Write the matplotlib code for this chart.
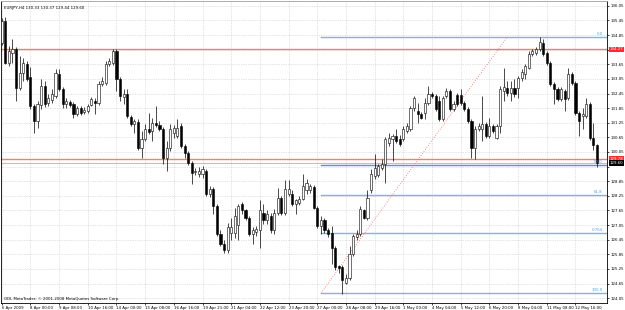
import numpy as np
import matplotlib.pyplot as plt
from matplotlib.patches import Rectangle

# EURJPY H4 candles, 6 Apr - 13 May 2009
opens = [134.53, 135.44, 133.71, 134.12, 134.29, 132.69, 133.30, 133.67, 133.14, 131.95,
         131.34, 131.99, 132.77, 132.07, 132.20, 132.36, 133.26, 132.65, 132.03, 132.11,
         132.03, 131.62, 131.87, 131.70, 131.75, 131.99, 132.16, 132.07, 132.85, 132.89,
         133.67, 133.71, 134.21, 133.06, 132.32, 132.44, 131.50, 131.21, 131.29, 130.23,
         130.60, 131.01, 130.93, 131.25, 131.17, 131.01, 129.82, 130.23, 130.84, 130.72,
         131.13, 130.31, 130.02, 129.61, 129.24, 129.16, 129.16, 129.29, 128.34, 128.55,
         127.85, 126.70, 126.29, 126.01, 126.74, 126.74, 127.07, 127.93, 127.65, 127.36,
         126.70, 126.78, 126.83, 127.56, 127.24, 127.44, 126.83, 127.56, 128.18, 127.56,
         128.34, 128.34, 127.93, 127.97, 128.14, 128.47, 128.51, 128.63, 127.77, 127.03,
         127.24, 126.83, 126.74, 126.09, 125.35, 125.31, 124.69, 124.86, 125.88, 126.54,
         126.70, 127.65, 127.32, 128.47, 129.08, 129.12, 129.41, 129.57, 130.43, 130.60,
         130.72, 130.60, 130.60, 130.93, 131.01, 131.87, 131.75, 131.62, 131.66, 132.07,
         132.44, 132.36, 132.16, 131.42, 132.36, 132.57, 131.83, 132.40, 132.40, 132.07,
         131.83, 131.34, 130.23, 131.01, 131.01, 131.21, 130.72, 131.13, 130.64, 131.13,
         132.57, 132.69, 132.48, 132.69, 132.69, 133.10, 133.26, 133.51, 134.08, 134.12,
         134.29, 134.53, 134.12, 133.71, 132.85, 132.65, 132.24, 132.57, 132.28, 133.26,
         132.89, 131.66, 131.54, 131.54, 132.03, 130.64, 130.33]
highs = [135.56, 135.60, 134.41, 134.70, 134.37, 134.00, 133.92, 133.80, 133.55, 132.03,
         132.16, 133.06, 132.98, 132.44, 132.65, 133.47, 133.47, 132.73, 132.28, 132.20,
         132.11, 131.95, 131.95, 131.91, 132.03, 132.32, 132.28, 132.98, 133.14, 133.80,
         133.92, 134.29, 134.29, 133.14, 132.65, 132.65, 131.58, 131.42, 131.42, 130.93,
         131.21, 131.66, 131.46, 131.95, 131.34, 131.09, 130.52, 131.21, 131.17, 131.42,
         131.25, 130.39, 130.11, 129.70, 129.41, 129.45, 129.49, 129.37, 128.67, 128.63,
         127.93, 126.83, 126.42, 127.15, 127.36, 127.77, 127.93, 128.01, 127.73, 127.44,
         126.99, 127.03, 128.06, 127.93, 127.65, 127.56, 127.69, 128.59, 128.26, 128.88,
         128.88, 128.47, 128.14, 128.26, 129.16, 128.96, 128.75, 128.71, 127.85, 127.44,
         127.36, 126.91, 127.03, 126.17, 125.43, 125.39, 125.06, 126.21, 126.70, 126.83,
         127.85, 127.73, 128.47, 129.37, 129.98, 129.57, 129.78, 130.68, 130.84, 130.80,
         131.01, 130.76, 131.13, 131.25, 131.95, 132.36, 132.07, 131.70, 132.28, 132.77,
         132.52, 132.44, 132.36, 132.36, 132.69, 132.65, 132.16, 132.48, 132.65, 132.16,
         131.91, 131.42, 131.13, 131.25, 132.36, 131.29, 131.46, 131.21, 131.21, 132.77,
         133.51, 132.98, 132.98, 133.06, 133.18, 133.47, 133.67, 134.21, 134.29, 134.37,
         134.78, 134.70, 134.21, 133.80, 132.93, 132.73, 132.73, 132.65, 133.51, 133.34,
         132.98, 131.75, 131.87, 132.28, 132.11, 131.25, 130.37]
lows = [134.45, 133.67, 133.59, 133.71, 132.16, 132.61, 132.98, 132.98, 131.83, 130.84,
        131.05, 131.83, 131.91, 131.95, 132.07, 132.28, 132.57, 131.87, 131.87, 131.91,
        131.46, 131.54, 131.58, 131.62, 131.66, 131.95, 131.62, 131.99, 132.77, 132.81,
        133.59, 133.63, 132.57, 132.16, 132.03, 131.46, 131.13, 130.84, 130.15, 129.82,
        130.52, 130.80, 130.52, 131.09, 130.93, 129.57, 129.29, 130.11, 130.64, 130.64,
        130.23, 129.82, 129.53, 128.75, 129.12, 129.04, 129.00, 128.26, 128.22, 127.52,
        126.62, 126.17, 125.92, 125.92, 126.42, 126.50, 126.42, 127.52, 127.24, 126.62,
        126.29, 126.62, 126.09, 127.11, 127.11, 126.74, 126.70, 127.48, 127.48, 127.48,
        128.26, 127.85, 127.52, 127.89, 128.06, 128.34, 128.38, 127.73, 126.91, 126.70,
        126.74, 126.58, 125.47, 125.19, 125.10, 124.24, 124.65, 124.78, 125.76, 126.42,
        126.62, 127.28, 127.24, 128.38, 128.96, 129.04, 129.33, 128.79, 130.31, 129.70,
        130.43, 130.31, 130.52, 130.84, 130.93, 131.75, 131.25, 131.42, 131.42, 131.99,
        132.28, 131.75, 131.34, 131.34, 132.28, 131.75, 131.75, 131.95, 131.99, 131.75,
        131.25, 129.82, 129.78, 130.93, 130.52, 130.64, 130.64, 130.84, 130.60, 130.84,
        132.16, 132.36, 132.16, 132.32, 132.28, 132.98, 133.06, 133.47, 134.00, 134.04,
        134.21, 134.00, 133.63, 132.77, 132.03, 132.16, 132.16, 131.75, 132.20, 132.81,
        131.58, 130.72, 131.01, 131.46, 130.56, 130.15, 129.44]
closes = [135.44, 133.71, 134.21, 134.29, 132.69, 133.30, 133.71, 133.06, 131.95, 131.34,
          132.03, 132.77, 132.03, 132.28, 132.44, 133.30, 132.65, 132.03, 132.16, 131.99,
          131.62, 131.87, 131.66, 131.79, 131.95, 132.24, 132.07, 132.85, 132.98, 133.67,
          133.80, 134.21, 133.06, 132.36, 132.44, 131.54, 131.21, 131.34, 130.23, 130.60,
          131.01, 130.88, 131.25, 131.17, 131.01, 129.82, 130.23, 131.01, 131.05, 131.05,
          130.31, 130.02, 129.61, 129.20, 129.29, 129.29, 129.37, 128.34, 128.55, 127.85,
          126.70, 126.29, 126.01, 126.95, 126.95, 127.44, 127.85, 127.65, 127.36, 126.70,
          126.83, 126.87, 127.65, 127.24, 127.52, 126.83, 127.56, 128.18, 127.56, 128.55,
          128.55, 127.93, 128.06, 128.14, 128.67, 128.79, 128.67, 127.77, 127.03, 127.24,
          126.83, 126.70, 126.09, 125.31, 125.27, 124.78, 124.86, 125.88, 126.62, 126.70,
          127.73, 127.36, 128.18, 129.16, 129.41, 129.49, 129.57, 130.60, 130.64, 130.72,
          130.52, 130.39, 131.01, 131.13, 131.87, 132.28, 131.62, 131.46, 132.07, 132.44,
          132.36, 131.83, 131.42, 132.28, 132.57, 131.83, 132.03, 132.03, 132.07, 131.83,
          131.34, 130.23, 131.01, 131.13, 131.21, 130.72, 131.13, 130.93, 131.13, 132.65,
          132.73, 132.48, 132.69, 132.44, 133.10, 133.34, 133.59, 134.08, 134.21, 134.29,
          134.57, 134.08, 133.71, 132.85, 132.65, 132.24, 132.65, 132.24, 133.26, 132.89,
          131.66, 131.34, 131.62, 132.03, 130.64, 130.33, 129.60]

time_labels = ['6 Apr 2009', '8 Apr 00:00', '9 Apr 08:00', '10 Apr 16:00', '14 Apr 00:00',
               '15 Apr 08:00', '16 Apr 16:00', '19 Apr 21:00', '21 Apr 04:00', '22 Apr 12:00',
               '23 Apr 20:00', '27 Apr 00:00', '28 Apr 08:00', '29 Apr 16:00', '1 May 00:00',
               '4 May 04:00', '5 May 12:00', '6 May 20:00', '8 May 04:00', '11 May 08:00',
               '12 May 16:00']
bars_per_label = 8

# horizontal lines and fibonacci retracement
hlines = [134.27, 129.78]
fib_levels = [0.0, 50.0, 61.8, 76.4, 100.0]
fib_text = ['0.0', '50.0', '61.8', '0.764', '100.0']
fib_low, fib_high = 124.25, 134.78
fib_bar_start, fib_bar_end = 89, 141

price_ticks = np.round(np.arange(124.05, 136.06, 0.6), 2)

fs = 2.8
plt.rcParams['font.family'] = 'DejaVu Sans'

fig = plt.figure(figsize=(6.25, 3.1), dpi=100)
ax = fig.add_axes([0.0016, 1 - 303 / 310, 606 / 625, 302 / 310])

n = len(closes)
x = np.arange(n)
ax.set_xlim(-0.2, 168.8)
ax.set_ylim(123.85, 136.25)

# grid
for k in range(len(time_labels)):
    ax.axvline(k * bars_per_label, color='#c8c8c8', lw=0.5, ls=(0, (1, 1.5)), zorder=0)
for p in price_ticks:
    ax.axhline(p, color='#c8c8c8', lw=0.5, ls=(0, (1, 1.5)), zorder=0)

# bid line
ax.axhline(closes[-1], color='#c0c0c0', lw=0.8, zorder=1)

# red horizontal lines
for h in hlines:
    ax.axhline(h, color='#ff7878', lw=1.0, zorder=1)

# fibonacci
rng = fib_high - fib_low
for lvl, t in zip(fib_levels, fib_text):
    y = fib_high - rng * lvl / 100
    col = '#5592e0' if lvl == 50.0 else '#7eb2f4'
    ax.plot([fib_bar_start, 168.8], [y, y], color=col, lw=1.0, zorder=1)
    ax.text(167.6, y + 0.04, t, color='#5b9be8', fontsize=fs, ha='right', va='bottom', zorder=5)
ax.plot([fib_bar_start, fib_bar_end], [fib_low, fib_high], color='#ff6060', lw=0.6,
        ls=(0, (1, 2)), zorder=1)

# candles
w = 0.6
for i in range(n):
    o, h, l, c = opens[i], highs[i], lows[i], closes[i]
    ax.vlines(x[i], l, h, color='black', lw=0.5, zorder=2)
    bottom = min(o, c)
    height = max(abs(c - o), 0.02)
    face = 'white' if c >= o else 'black'
    ax.add_patch(Rectangle((x[i] - w / 2, bottom), w, height, facecolor=face,
                           edgecolor='black', lw=0.4, zorder=3))

# axes styling
for s in ax.spines.values():
    s.set_color('black')
    s.set_linewidth(0.6)
ax.spines['top'].set_color('#a0a0a0')

# tick labels hidden behind the price tags
tags = hlines + [closes[-1]]
ylabels = ['' if min(abs(p - t) for t in tags) < 0.2 else '%.2f' % p for p in price_ticks]

ax.yaxis.tick_right()
ax.set_yticks(price_ticks)
ax.set_yticklabels(ylabels, fontsize=fs)
ax.tick_params(axis='y', length=1.5, width=0.5, pad=1)

ax.set_xticks(np.arange(len(time_labels)) * bars_per_label)
ax.set_xticklabels(time_labels, fontsize=fs, ha='left')
ax.tick_params(axis='x', length=1.5, width=0.5, pad=1)

# price tags on the axis
for h in hlines:
    ax.text(1.004, h, '%.2f' % h, transform=ax.get_yaxis_transform(), fontsize=fs,
            color='white', va='center', ha='left',
            bbox=dict(facecolor='#ff2a2a', edgecolor='none', pad=0.5), clip_on=False, zorder=6)
ax.text(1.004, closes[-1], '%.2f' % closes[-1], transform=ax.get_yaxis_transform(),
        fontsize=fs, color='white', va='center', ha='left',
        bbox=dict(facecolor='black', edgecolor='none', pad=0.5), clip_on=False, zorder=6)

ax.text(0.005, 0.985, 'EURJPY,H4 %.2f %.2f %.2f %.2f' % (opens[-1], highs[-1], lows[-1], closes[-1]),
        transform=ax.transAxes, fontsize=fs, va='top', ha='left')
ax.text(0.005, 0.008, 'ODL MetaTrader, \u00a9 2001-2008 MetaQuotes Software Corp.',
        transform=ax.transAxes, fontsize=fs, va='bottom', ha='left')

fig.savefig('out.png', dpi=100, facecolor='white')
